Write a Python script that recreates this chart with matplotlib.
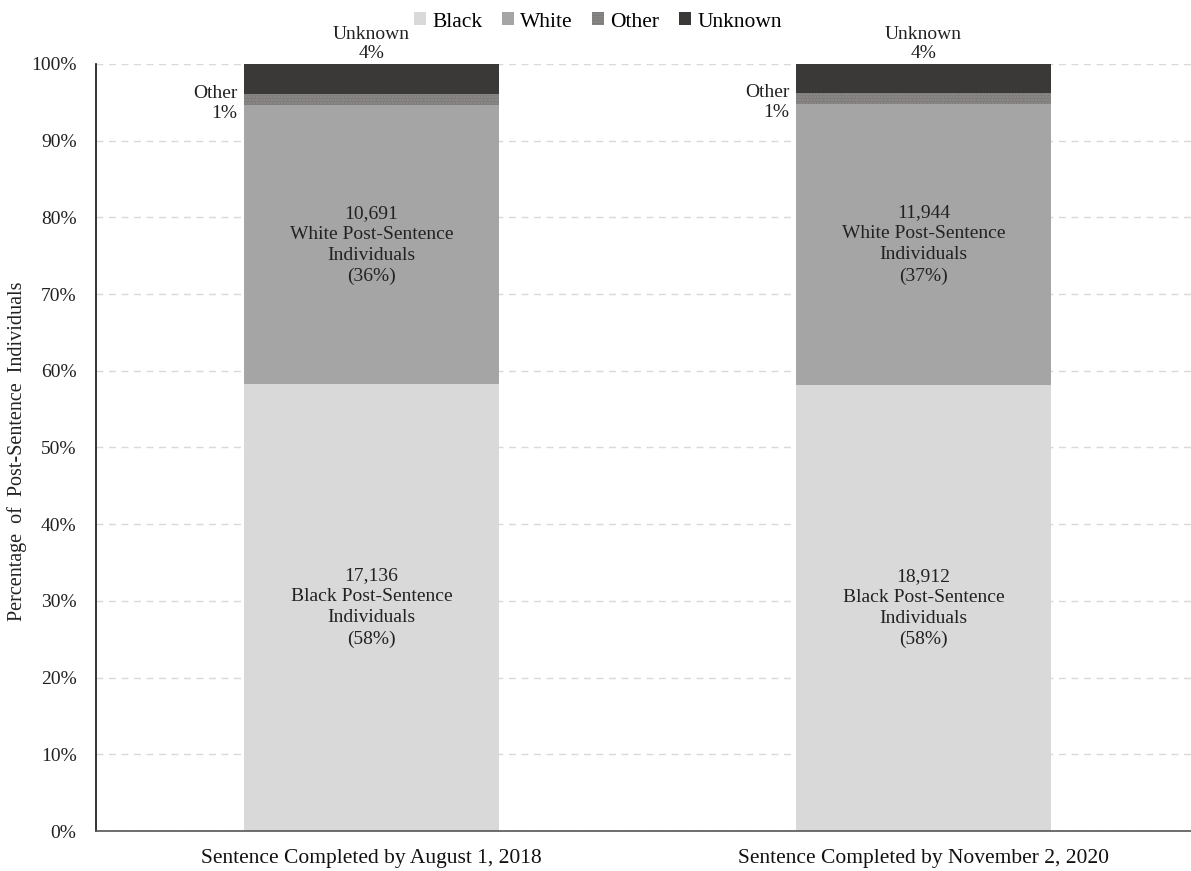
import matplotlib
matplotlib.use("Agg")
import matplotlib.pyplot as plt
import numpy as np

plt.rcParams['font.family'] = ['Liberation Serif', 'DejaVu Serif']
plt.rcParams['hatch.linewidth'] = 1.2

categories = ["Sentence Completed by August 1, 2018",
              "Sentence Completed by November 2, 2020"]
series = ["Black", "White", "Other", "Unknown"]
black = [17136, 18912]
white = [10691, 11944]
other = [426, 475]
unknown = [1161, 1218]
black_pct = ["58%", "58%"]
white_pct = ["36%", "37%"]
other_pct = ["1%", "1%"]
unknown_pct = ["4%", "4%"]
yticks = [0, 10, 20, 30, 40, 50, 60, 70, 80, 90, 100]

colors = {"Black": "#d9d9d9", "White": "#a5a5a5", "Other": "#7b7878", "Unknown": "#3b3938"}

counts = np.array([black, white, other, unknown], dtype=float)
totals = counts.sum(axis=0)
shares = counts / totals * 100

W, H = 1191, 871
fig = plt.figure(figsize=(W / 100, H / 100), dpi=100)
ax = fig.add_axes([96 / W, (H - 831) / H, (1191 - 96) / W, (831 - 64) / H])

x = np.arange(len(categories))
width = 0.462
bottom = np.zeros(len(categories))
handles = []
for name, vals in zip(series, shares):
    kw = {}
    if name == "Other":
        kw = dict(hatch="......", edgecolor="#938f8f", linewidth=0)
    b = ax.bar(x, vals, width, bottom=bottom, color=colors[name], label=name,
               zorder=2, **kw)
    handles.append(b)
    bottom += vals

ax.set_xlim(-0.499, 1.4846)
ax.set_ylim(0, 100)
ax.set_yticks(yticks)
ax.set_yticklabels([f"{t}%" for t in yticks], fontsize=14, color="#222222")
ax.set_xticks(x)
ax.set_xticklabels(categories, fontsize=15.5, color="#111111")
ax.tick_params(axis='both', length=0)
ax.tick_params(axis='x', pad=13)
ax.tick_params(axis='y', pad=14)
ax.grid(axis='y', color="#d9d9d9", linestyle=(0, (5, 4)), linewidth=1, zorder=0)
for s in ["top", "right"]:
    ax.spines[s].set_visible(False)
ax.spines["left"].set_color("#111111")
ax.spines["left"].set_linewidth(1.2)
ax.spines["bottom"].set_color("#555555")
ax.spines["bottom"].set_linewidth(1.2)

ax.set_ylabel("Percentage  of  Post-Sentence  Individuals", fontsize=14.5,
              color="#222222")
ax.yaxis.set_label_coords(-0.063, 0.495)

fs = 14
for i in range(len(categories)):
    bk, wh, ot, un = shares[:, i]
    ax.text(x[i], bk / 2,
            f"{black[i]:,}\nBlack Post-Sentence\nIndividuals\n({black_pct[i]})",
            ha="center", va="center", fontsize=fs, linespacing=1.3, color="#222222")
    ax.text(x[i], bk + wh / 2,
            f"{white[i]:,}\nWhite Post-Sentence\nIndividuals\n({white_pct[i]})",
            ha="center", va="center", fontsize=fs, linespacing=1.3, color="#222222")
    ax.text(x[i] - width / 2 - 0.012, bk + wh + ot / 2 - 0.5,
            f"Other\n{other_pct[i]}", ha="right", va="center", fontsize=fs,
            linespacing=1.25, color="#222222")
    ax.text(x[i], 100.3, f"Unknown\n{unknown_pct[i]}", ha="center", va="bottom",
            fontsize=fs, linespacing=1.1, color="#222222", clip_on=False)

leg = fig.legend(handles=handles, labels=series, loc="upper center",
                 bbox_to_anchor=(598 / W, 1.008), ncol=4, frameon=False,
                 fontsize=15.5, handlelength=0.55, handleheight=0.55,
                 handletextpad=0.3, columnspacing=0.9)

fig.savefig("out.png", dpi=100)
